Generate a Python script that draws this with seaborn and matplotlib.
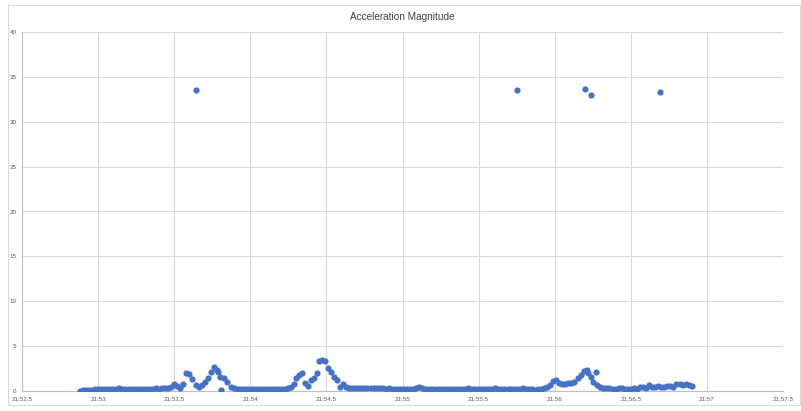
import numpy as np
import pandas as pd
import matplotlib
matplotlib.use("Agg")
import matplotlib.pyplot as plt
import seaborn as sns
from matplotlib.ticker import FuncFormatter, MultipleLocator
from matplotlib.patches import Rectangle

# time in seconds (after 21 minutes), magnitude of acceleration
time = [
    52.88, 52.90, 52.92, 52.94, 52.96, 52.98, 53.00, 53.02, 53.04, 53.06,
    53.08, 53.10, 53.12, 53.14, 53.16, 53.18, 53.20, 53.22, 53.24, 53.26,
    53.28, 53.30, 53.32, 53.34, 53.36, 53.38, 53.40, 53.42, 53.44,
    # first bump
    53.46, 53.48, 53.50, 53.52, 53.54, 53.56, 53.58, 53.60, 53.62, 53.64,
    53.66, 53.68, 53.70, 53.72, 53.74, 53.76, 53.78, 53.79, 53.80, 53.81,
    53.83, 53.85, 53.87, 53.89, 53.91,
    53.93, 53.95, 53.97, 53.99, 54.01, 54.03, 54.05, 54.07, 54.09, 54.11,
    54.13, 54.15, 54.17, 54.19, 54.21, 54.23,
    # second bump
    54.25, 54.27, 54.29, 54.30, 54.32, 54.34, 54.36, 54.38, 54.40, 54.42,
    54.44, 54.45, 54.47, 54.49, 54.51, 54.53, 54.55, 54.57, 54.59, 54.61,
    54.63, 54.65,
    54.67, 54.69, 54.71, 54.73, 54.75, 54.77, 54.79, 54.81, 54.83, 54.85,
    54.87, 54.89, 54.91, 54.93, 54.95, 54.97, 54.99, 55.01, 55.03, 55.05,
    55.07, 55.09, 55.11, 55.13, 55.15, 55.17, 55.19, 55.21, 55.23, 55.25,
    55.27, 55.29, 55.31, 55.33, 55.35, 55.37, 55.39, 55.41, 55.43, 55.45,
    55.47, 55.49, 55.51, 55.53, 55.55, 55.57, 55.59, 55.61, 55.63, 55.65,
    55.67, 55.69, 55.71, 55.73, 55.75, 55.77, 55.79, 55.81, 55.83, 55.85,
    55.87, 55.89, 55.91,
    # third bump
    55.93, 55.95, 55.97, 55.99, 56.01, 56.03, 56.05, 56.07, 56.09, 56.11,
    56.13, 56.15, 56.17, 56.19, 56.21, 56.22, 56.24, 56.25, 56.27, 56.28,
    56.30, 56.32,
    56.34, 56.36, 56.38, 56.40, 56.42, 56.44, 56.46, 56.48, 56.50, 56.52,
    56.54, 56.56, 56.58, 56.60, 56.62, 56.64, 56.66, 56.68, 56.70, 56.72,
    56.74, 56.76, 56.78, 56.80, 56.82, 56.84, 56.86, 56.88, 56.90,
]
accel = [
    0.05, 0.08, 0.10, 0.12, 0.15, 0.18, 0.20, 0.20, 0.22, 0.20,
    0.22, 0.25, 0.22, 0.35, 0.25, 0.22, 0.25, 0.25, 0.22, 0.25,
    0.25, 0.25, 0.22, 0.25, 0.25, 0.28, 0.25, 0.28, 0.30,
    0.30, 0.50, 0.75, 0.60, 0.35, 0.80, 1.95, 1.85, 1.30, 0.70,
    0.45, 0.70, 1.00, 1.40, 2.10, 2.70, 2.30, 2.10, 1.60, 0.10,
    1.50, 1.00, 0.50, 0.30, 0.20,
    0.20, 0.20, 0.18, 0.20, 0.20, 0.20, 0.18, 0.20, 0.20, 0.20,
    0.20, 0.18, 0.20, 0.22, 0.20, 0.25,
    0.35, 0.50, 0.80, 1.40, 1.80, 2.00, 0.90, 0.55, 1.20, 1.50,
    2.00, 3.30, 3.50, 3.30, 2.60, 2.10, 1.60, 1.20, 0.45, 0.80,
    0.50, 0.35,
    0.30, 0.28, 0.30, 0.28, 0.28, 0.30, 0.28, 0.28, 0.30, 0.28,
    0.28, 0.25, 0.28, 0.25, 0.25, 0.25, 0.22, 0.25, 0.22, 0.22,
    0.25, 0.30, 0.45, 0.30, 0.22, 0.20, 0.20, 0.22, 0.20, 0.20,
    0.20, 0.22, 0.20, 0.18, 0.20, 0.20, 0.25, 0.22, 0.30, 0.20,
    0.18, 0.20, 0.20, 0.18, 0.20, 0.20, 0.22, 0.28, 0.20, 0.22,
    0.20, 0.20, 0.22, 0.25, 0.20, 0.25, 0.30, 0.22, 0.20, 0.18,
    0.15, 0.18, 0.25,
    0.30, 0.40, 0.70, 1.10, 1.20, 0.90, 0.75, 0.80, 0.85, 0.90,
    1.00, 1.40, 1.80, 2.20, 2.30, 2.00, 1.60, 1.00, 2.10, 0.70,
    0.45, 0.35,
    0.35, 0.30, 0.25, 0.20, 0.30, 0.35, 0.25, 0.20, 0.25, 0.30,
    0.25, 0.40, 0.50, 0.35, 0.70, 0.45, 0.40, 0.60, 0.50, 0.45,
    0.60, 0.55, 0.50, 0.75, 0.80, 0.70, 0.75, 0.65, 0.60,
]

# isolated spikes near 33
spike_time = [53.64, 55.75, 56.20, 56.24, 56.69]
spike_accel = [33.5, 33.5, 33.6, 33.0, 33.3]

df = pd.DataFrame({"time": time + spike_time, "accel": accel + spike_accel})

sns.set_style("white")
plt.rcParams["font.family"] = ["Liberation Sans", "DejaVu Sans"]

fig = plt.figure(figsize=(8.01, 4.11), dpi=100)
fig.patch.set_facecolor("white")
# chart frame like the spreadsheet chart box
fig.patches.append(Rectangle((8 / 801, 6 / 411), 792 / 801, 400 / 411,
                             transform=fig.transFigure, fill=False,
                             edgecolor="#D9D9D9", linewidth=0.8))

ax = fig.add_axes([22 / 801, 20 / 411, 761 / 801, 359 / 411])
sns.scatterplot(data=df, x="time", y="accel", color="#4472C4", s=20,
                linewidth=0, ax=ax, zorder=3)

ax.set_xlim(52.5, 57.5)
ax.set_ylim(0, 40)
ax.xaxis.set_major_locator(MultipleLocator(0.5))
ax.yaxis.set_major_locator(MultipleLocator(5))
ax.xaxis.set_major_formatter(FuncFormatter(lambda v, p: f"21:{v:g}"))
ax.grid(True, color="#D9D9D9", linewidth=0.8)
ax.tick_params(length=0, labelsize=4.5, colors="#595959", pad=4)
ax.set_xlabel("")
ax.set_ylabel("")
for side in ["top", "right"]:
    ax.spines[side].set_visible(False)
for side in ["left", "bottom"]:
    ax.spines[side].set_color("#BFBFBF")
    ax.spines[side].set_linewidth(0.8)

fig.text(402 / 801, 1 - 17 / 411, "Acceleration Magnitude", ha="center",
         va="center", fontsize=7.2, color="#404040")

fig.savefig("out.png", dpi=100)
